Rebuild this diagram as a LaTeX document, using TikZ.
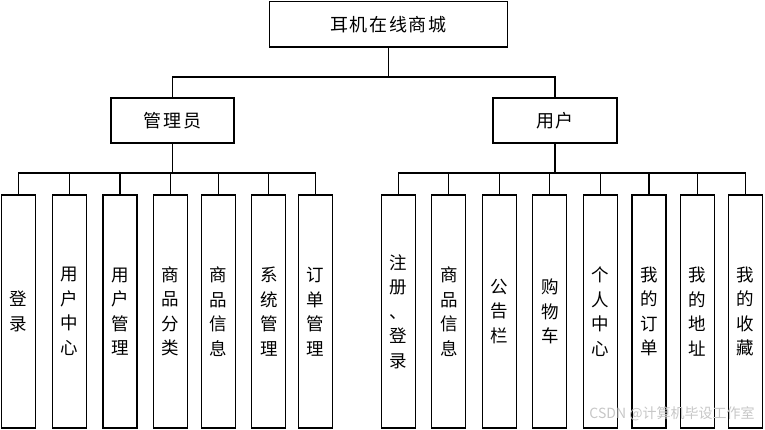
\documentclass[tikz,border=0pt]{standalone}
\usepackage{fontspec}
\setmainfont{Noto Sans CJK SC}
\newfontfamily\spacedcjk[LetterSpace=9]{Noto Sans CJK SC}
\begin{document}
\begin{tikzpicture}[x=1pt,y=-1pt,
  box/.style={draw=black,line width=1.2pt,fill=white,rectangle,inner sep=0pt,
    font=\spacedcjk\fontsize{18}{20}\selectfont},
  col/.style={box,minimum width=34pt,minimum height=233pt,align=center,
    font=\fontsize{17.5}{24.5}\selectfont},
  wire/.style={line width=1.2pt,draw=black}]
\useasboundingbox (0,0) rectangle (765,429);
% top level
\node[box,minimum width=238pt,minimum height=45.5pt] (top) at (388.4,24.3) {耳机在线商城};
\node[box,minimum width=123pt,minimum height=45pt] (adm) at (172.5,120.5) {管理员};
\node[box,minimum width=124pt,minimum height=45pt] (usr) at (555,120.5) {用户};
\coordinate (j0) at (388.4,77);
\coordinate (ja) at (172.5,173);
\coordinate (ju) at (555,173);
% admin children
\node[col] (a1) at (18.7,311.5) {登\\录};
\node[col] (a2) at (69.3,311.5) {用\\户\\中\\心};
\node[col] (a3) at (120,311.5) {用\\户\\管\\理};
\node[col] (a4) at (170.5,311.5) {商\\品\\分\\类};
\node[col] (a5) at (218.3,311.5) {商\\品\\信\\息};
\node[col] (a6) at (268.8,311.5) {系\\统\\管\\理};
\node[col] (a7) at (315.7,311.5) {订\\单\\管\\理};
% user children
\node[col] (u1) at (398.3,311.5) {注\\册\\、\\登\\录};
\node[col] (u2) at (448.8,311.5) {商\\品\\信\\息};
\node[col] (u3) at (499.5,311.5) {公\\告\\栏};
\node[col] (u4) at (549.8,311.5) {购\\物\\车};
\node[col] (u5) at (600.7,311.5) {个\\人\\中\\心};
\node[col] (u6) at (649,311.5) {我\\的\\订\\单};
\node[col] (u7) at (697.7,311.5) {我\\的\\地\\址};
\node[col] (u8) at (745.7,311.5) {我\\的\\收\\藏};
% connectors
\draw[wire] (top.south) -- (j0);
\draw[wire] (adm.north) |- (j0);
\draw[wire] (usr.north) |- (j0);
\draw[wire] (adm.south) -- (ja);
\draw[wire] (usr.south) -- (ju);
\foreach \n in {a1,a2,a3,a4,a5,a6,a7} \draw[wire] (\n.north) |- (ja);
\foreach \n in {u1,u2,u3,u4,u5,u6,u7,u8} \draw[wire] (\n.north) |- (ju);
% watermark
\node[text=black!22,font=\fontsize{14}{16}\selectfont,inner sep=0pt] (wm) at (672,414) {CSDN @计算机毕设工作室};
\end{tikzpicture}
\end{document}
